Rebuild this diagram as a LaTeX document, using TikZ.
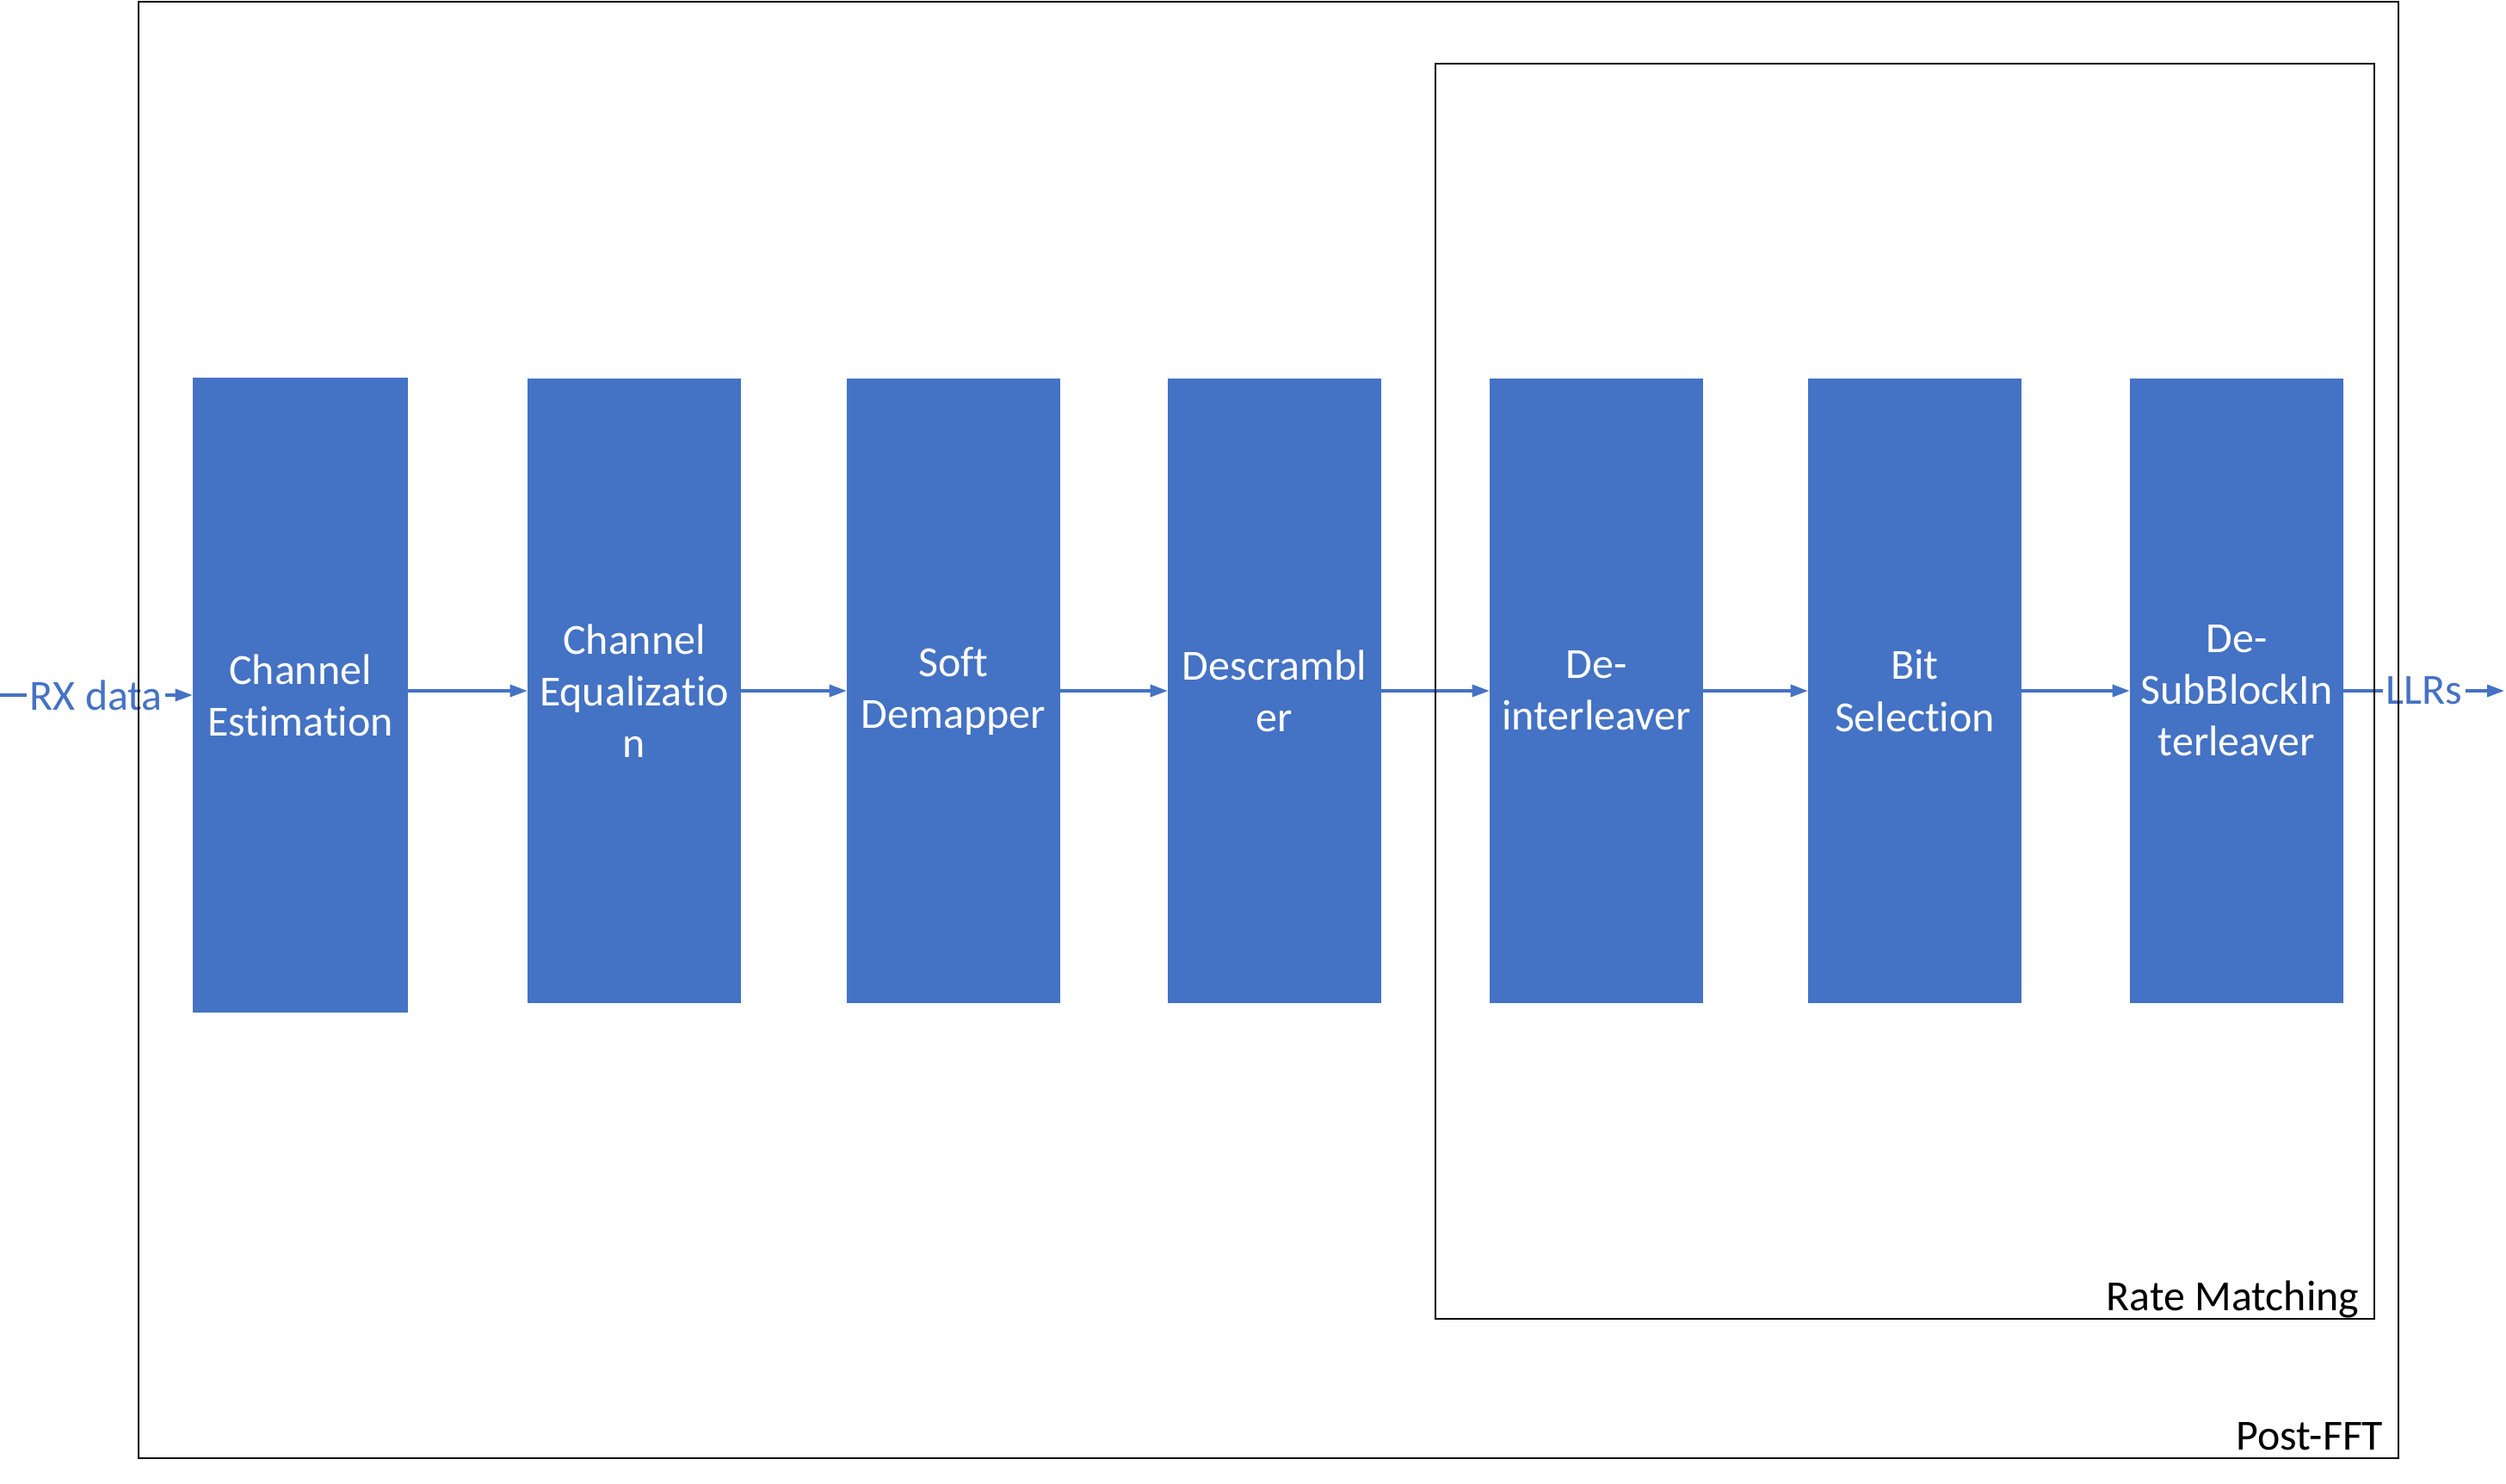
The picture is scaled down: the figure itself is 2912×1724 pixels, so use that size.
\documentclass[tikz,border=0pt]{standalone}
\usepackage{fontspec}
\setmainfont[Ligatures=NoCommon]{Carlito}
\usetikzlibrary{arrows.meta}
\definecolor{blockblue}{HTML}{4472C4}

\begin{document}
\begin{tikzpicture}[x=0.01cm, y=-0.01cm, font=\fontsize{14.2}{17.1}\selectfont,
    block/.style={fill=blockblue, text=white, align=center, inner sep=0pt,
      minimum width=2.47cm, minimum height=7.26cm},
    flow/.style={blockblue, line width=0.9pt, -{Triangle[length=0.2cm,width=0.14cm]}},
    flowlabel/.style={fill=white, text=blockblue, inner sep=1pt},
    frame/.style={draw=black, line width=0.8pt}]
    \useasboundingbox (0,0) rectangle (2912,1724);

    % processing chain
    \node[block, minimum width=2.49cm, minimum height=7.37cm] (ce) at (349,808) {Channel\\Estimation};
    \foreach \n/\x/\t in {eq/737/{Channel\\Equalizatio\\n}, dm/1108/{Soft\\Demapper},
        ds/1481/{Descrambl\\er}, di/1855/{De-\\interleaver}, bs/2225/{Bit\\Selection},
        sb/2599/{De-\\SubBlockIn\\terleaver}}
      \node[block] (\n) at (\x,803) {\t};

    \foreach \a/\b in {ce/eq, eq/dm, dm/ds, ds/di, di/bs, bs/sb}
      \draw[flow] (\a.east |- \b.west) -- (\b.west);

    % input and output
    \coordinate (rxin) at (0,808);
    \coordinate (llrout) at (2910,803);
    \draw[flow] (rxin) -- node[flowlabel] {RX data} (ce.west);
    \draw[flow] (sb.east) -- node[flowlabel] {LLRs} (llrout);

    % grouping frames
    \draw[frame] (161,2) rectangle (2787,1695);
    \draw[frame] (1668,74) rectangle (2759,1533);
    \node[anchor=base east, inner sep=0pt] (rmlabel) at (2742,1523) {Rate Matching};
    \node[anchor=base east, inner sep=0pt] (pflabel) at (2770,1685) {Post-FFT};
\end{tikzpicture}
\end{document}
